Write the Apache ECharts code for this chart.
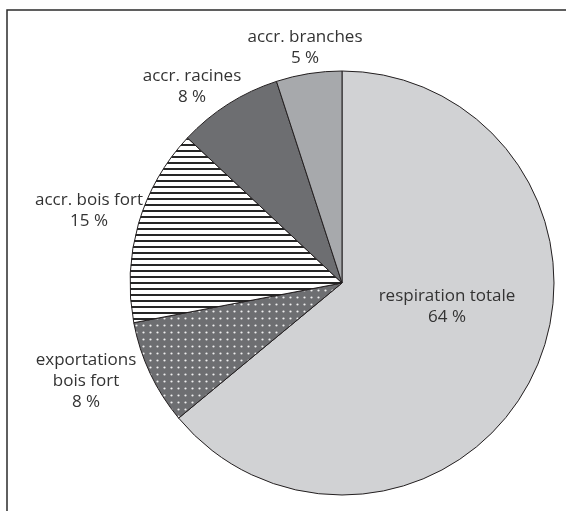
<!DOCTYPE html>
<html><head><meta charset="utf-8">
<script src="https://cdn.jsdelivr.net/npm/echarts@6/dist/echarts.min.js"></script>
<style>html,body{margin:0;padding:0;background:#fff}#c{width:566px;height:511px}</style>
</head><body><div id="c"></div>
<script>
const categories = ['respiration totale', 'exportations\nbois fort', 'accr. bois fort', 'accr. racines', 'accr. branches'];
const values = [64, 8, 15, 8, 5];

// label block centres (styling)
const labelPos = [[447, 307], [86, 381], [89, 211], [192, 87], [305, 48]];

function stripes() {
  const c = document.createElement('canvas'); c.width = 8; c.height = 6;
  const g = c.getContext('2d');
  g.fillStyle = '#ffffff'; g.fillRect(0, 0, 8, 6);
  g.fillStyle = '#262626'; g.fillRect(0, 0, 8, 2);
  return c;
}
function dots() {
  const c = document.createElement('canvas'); c.width = 7; c.height = 7;
  const g = c.getContext('2d');
  g.fillStyle = '#6d6e71'; g.fillRect(0, 0, 7, 7);
  g.fillStyle = '#f0f0f0'; g.beginPath(); g.arc(3.5, 3.5, 1.1, 0, Math.PI * 2); g.fill();
  return c;
}
const fills = ['#d1d2d4', {image: dots(), repeat: 'repeat'}, {image: stripes(), repeat: 'repeat'}, '#6d6e71', '#a7a9ac'];

const chart = echarts.init(document.getElementById('c'), null, {renderer: 'canvas'});
chart.setOption({
  animation: false,
  backgroundColor: '#fff',
  graphic: [{
    type: 'rect', silent: true,
    shape: {x: 7, y: 10, width: 700, height: 700},
    style: {fill: 'none', stroke: '#2b2b2b', lineWidth: 1.5}
  }],
  series: [{
    type: 'pie',
    center: [342, 283],
    radius: 212,
    startAngle: 90,
    clockwise: true,
    avoidLabelOverlap: false,
    emphasis: {disabled: true},
    itemStyle: {borderColor: '#231f20', borderWidth: 1},
    label: {
      show: true, position: 'outside',
      color: '#333', fontFamily: 'Open Sans', fontSize: 17, lineHeight: 21,
      align: 'center',
      formatter: p => p.name + '\n' + p.value + ' %'
    },
    labelLine: {show: false},
    labelLayout: params => {
      const p = labelPos[params.dataIndex];
      return {x: p[0], y: p[1], align: 'center', verticalAlign: 'middle'};
    },
    data: categories.map((n, i) => ({name: n, value: values[i], itemStyle: {color: fills[i]}}))
  }]
});
</script></body></html>
